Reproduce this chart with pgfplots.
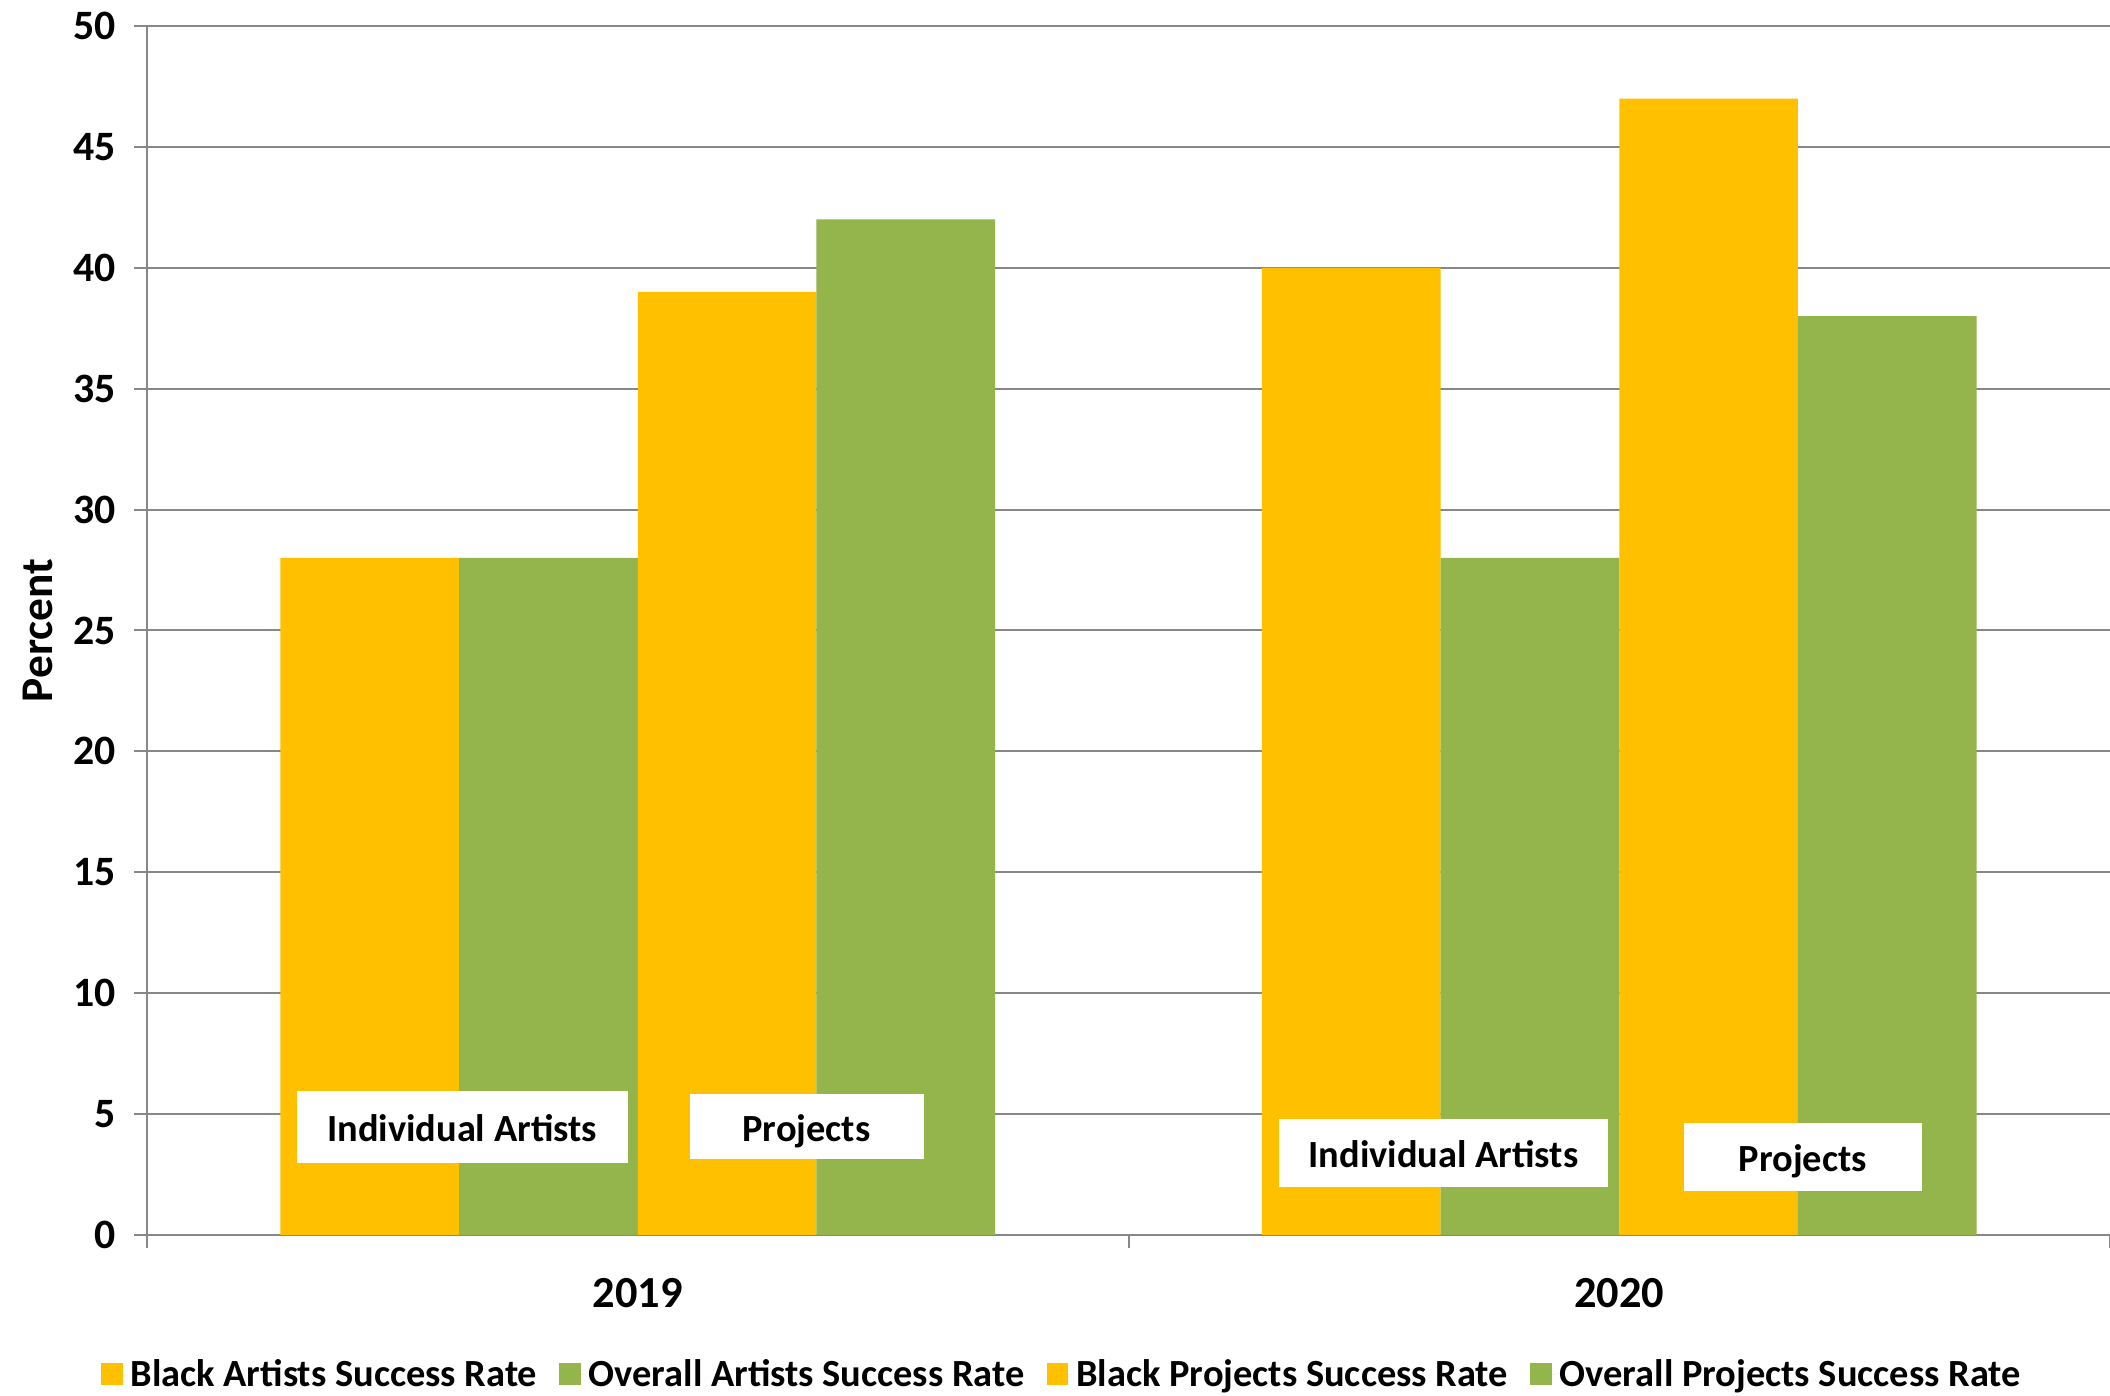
\documentclass[border=0pt]{standalone}
\usepackage{fontspec}
\setmainfont{Carlito}
\usepackage{pgfplots}
\pgfplotsset{compat=1.18}
\definecolor{cOrange}{HTML}{FFC000}
\definecolor{cGreen}{HTML}{93B54C}
\definecolor{cGrid}{HTML}{878787}
\newcommand{\tickfont}{\fontsize{20.9}{24}\selectfont\bfseries}
\newcommand{\ylabfont}{\fontsize{22.7}{26}\selectfont\bfseries}
\newcommand{\boxfont}{\fontsize{19.2}{23}\selectfont\bfseries}
\newcommand{\legfont}{\fontsize{19.2}{22}\selectfont\bfseries}
\newcommand{\yearfont}{\fontsize{22.2}{26}\selectfont\bfseries}
\tikzset{boxlab/.style={fill=white, inner sep=0pt, font=\boxfont, text height=16.4pt, text depth=1.6pt}}
\begin{document}
\begin{tikzpicture}
\useasboundingbox (-73.5pt,-80.5pt) rectangle (981.5pt,617.5pt);
\begin{axis}[
  at={(0pt,0pt)}, anchor=south west,
  scale only axis, width=981.5pt, height=604.5pt,
  ybar=0pt, bar width=0.182,
  xmin=-0.5, xmax=1.5, ymin=0, ymax=50,
  ytick={0,5,...,50},
  xtick={-0.5,0.5,1.5}, xticklabels={},
  extra x ticks={0,1}, extra x tick labels={2019,2020},
  extra x tick style={major tick length=0pt, grid=none,
     tick label style={font=\yearfont, yshift=-18pt}},
  axis x line*=bottom, axis y line*=left,
  axis line style={cGrid, line width=1pt},
  ymajorgrids, grid style={cGrid, line width=1pt},
  tick align=outside, major tick length=6.5pt,
  tick style={cGrid, line width=1pt},
  /pgf/number format/assume math mode=true,
  yticklabel style={font=\tickfont, xshift=-5.4pt},
  ylabel={Percent},
  ylabel style={font=\ylabfont, at={(axis description cs:-0.0555,0.5)}, anchor=center},
  legend style={at={(axis description cs:0.4666,-0.115)}, anchor=center, draw=none, fill=none,
     legend columns=4, font=\legfont,
     /tikz/every even column/.append style={column sep=9pt}},
  legend image code/.code={\fill[#1] (0pt,-5.4pt) rectangle (10.8pt,5.4pt); \path (0pt,0pt) -- (12.8pt,0pt);},
]
\addplot[fill=cOrange, draw=none] coordinates {(0,28) (1,40)};
\addplot[fill=cGreen, draw=none] coordinates {(0,28) (1,28)};
\addplot[fill=cOrange, draw=none] coordinates {(0,39) (1,47)};
\addplot[fill=cGreen, draw=none] coordinates {(0,42) (1,38)};
\legend{Black Artists Success Rate, Overall Artists Success Rate, Black Projects Success Rate, Overall Projects Success Rate}
\node[boxlab, minimum width=165.5pt, minimum height=36pt] at (axis cs:-0.179,4.47) {Individual Artists};
\node[boxlab, minimum width=117pt, minimum height=32.5pt] at (axis cs:0.172,4.49) {Projects};
\node[boxlab, minimum width=164.5pt, minimum height=34pt] at (axis cs:0.821,3.39) {Individual Artists};
\node[boxlab, minimum width=119pt, minimum height=34pt] at (axis cs:1.187,3.23) {Projects};
\end{axis}
\end{tikzpicture}
\end{document}
